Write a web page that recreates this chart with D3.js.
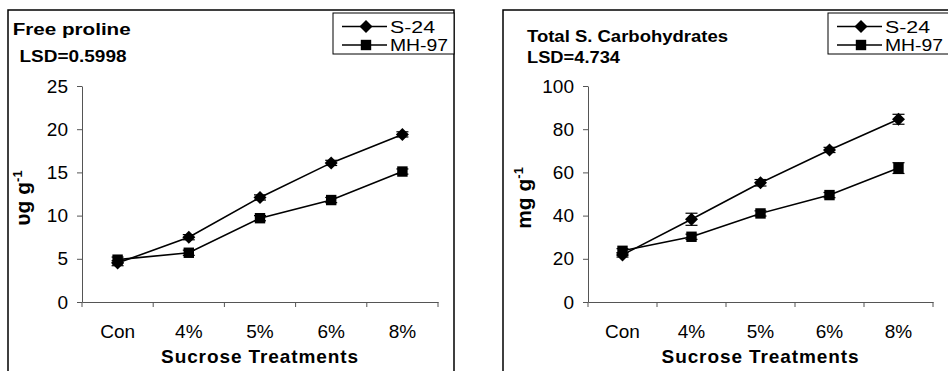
<!DOCTYPE html>
<html><head><meta charset="utf-8">
<script src="https://cdn.jsdelivr.net/npm/d3@7"></script>
<style>
html,body{margin:0;padding:0;background:#fff;}
svg{display:block;font-family:"Liberation Sans",Arial,sans-serif;}
</style></head>
<body>
<svg id="c" width="948" height="371"></svg>
<script>
const categories = ["Con","4%","5%","6%","8%"];
const seriesNames = ["S-24","MH-97"];
// Chart 1: Free proline
const prolineS24 = [4.5, 7.5, 12.1, 16.1, 19.4];
const prolineMH97 = [4.9, 5.7, 9.7, 11.8, 15.1];
const prolineErrS24 = [0.3, 0.3, 0.3, 0.3, 0.3];
const prolineErrMH97 = [0.3, 0.3, 0.3, 0.3, 0.3];
const prolineTicks = [0,5,10,15,20,25];
// Chart 2: Total soluble carbohydrates
const carbS24 = [21.8, 38.3, 55.2, 70.4, 84.6];
const carbMH97 = [23.7, 30.2, 41.0, 49.5, 62.0];
const carbErrS24 = [1.0, 2.8, 1.5, 1.2, 2.3];
const carbErrMH97 = [1.0, 1.2, 1.2, 1.2, 2.5];
const carbTicks = [0,20,40,60,80,100];

const svg = d3.select("#c");

function drawChart(cfg){
  const g = svg.append("g");
  g.append("path").attr("d", cfg.frame).attr("fill","none").attr("stroke","#000").attr("stroke-width",1.5);
  const x = d3.scaleBand().domain(categories).range([cfg.x0, cfg.x1]);
  const y = d3.scaleLinear().domain([0, cfg.ymax]).range([302, 86]);
  const ya = g.append("g").attr("transform",`translate(${cfg.x0},0)`)
    .call(d3.axisLeft(y).tickValues(cfg.ticks).tickSize(5).tickPadding(9).tickSizeOuter(0));
  ya.select(".domain").attr("stroke","#555");
  ya.selectAll(".tick line").attr("stroke","#555");
  ya.selectAll("text").attr("font-size",19).attr("fill","#000").attr("font-family","Liberation Sans, Arial, sans-serif");
  const xa = g.append("g").attr("transform",`translate(0,302)`)
    .call(d3.axisBottom(x).tickSize(0).tickPadding(23).tickSizeOuter(0));
  xa.select(".domain").attr("stroke","#555");
  xa.selectAll("text").attr("font-size",19).attr("fill","#000").attr("font-family","Liberation Sans, Arial, sans-serif");
  const bounds = categories.map(c => x(c)).concat([x.range()[1]]);
  g.selectAll(".xb").data(bounds).enter().append("line")
    .attr("x1",d=>d).attr("x2",d=>d).attr("y1",302).attr("y2",307)
    .attr("stroke","#555");
  const cx = c => x(c) + x.bandwidth()/2;
  const line = d3.line().x((d,i)=>cx(categories[i])).y(d=>y(d));
  const series = [
    {vals: cfg.s1, err: cfg.e1, shape: "diamond"},
    {vals: cfg.s2, err: cfg.e2, shape: "square"}
  ];
  series.forEach(s=>{
    g.append("path").attr("d", line(s.vals)).attr("fill","none").attr("stroke","#000").attr("stroke-width",1.6);
  });
  series.forEach(s=>{
    s.vals.forEach((v,i)=>{
      const px = cx(categories[i]);
      const e = s.err[i];
      const yt = y(v+e), yb = y(v-e);
      g.append("line").attr("x1",px).attr("x2",px).attr("y1",yt).attr("y2",yb).attr("stroke","#000").attr("stroke-width",1.2);
      [yt,yb].forEach(yy=>g.append("line").attr("x1",px-6).attr("x2",px+6).attr("y1",yy).attr("y2",yy).attr("stroke","#000").attr("stroke-width",1.2));
      drawMarker(g, s.shape, px, y(v));
    });
  });
  g.append("text").attr("x",cfg.t1x).attr("y",cfg.t1y).attr("font-size",16).attr("font-weight","bold")
    .attr("textLength",cfg.t1w).attr("lengthAdjust","spacingAndGlyphs").text(cfg.title);
  g.append("text").attr("x",cfg.t2x).attr("y",cfg.t2y).attr("font-size",16).attr("font-weight","bold")
    .attr("textLength",cfg.t2w).attr("lengthAdjust","spacingAndGlyphs").text(cfg.lsd);
  g.append("text").attr("x",(cfg.x0+cfg.x1)/2).attr("y",363).attr("text-anchor","middle")
    .attr("font-size",19).attr("font-weight","bold").attr("letter-spacing",0.9).text("Sucrose Treatments");
  const yt = g.append("text").attr("transform",`translate(${cfg.ytx},198) rotate(-90)`)
    .attr("text-anchor","middle").attr("font-size",21).attr("font-weight","bold");
  yt.append("tspan").text(cfg.yunit + " g");
  yt.append("tspan").attr("dy",-8).attr("font-size",13).text("-1");
  g.append("rect").attr("x",cfg.lx).attr("y",13).attr("width",cfg.lw).attr("height",41)
    .attr("fill","#fff").attr("stroke","#000").attr("stroke-width",1);
  const ly = [26.5, 45];
  const lw = [45, 58];
  seriesNames.forEach((n,i)=>{
    g.append("line").attr("x1",cfg.lx+9).attr("x2",cfg.lx+54).attr("y1",ly[i]).attr("y2",ly[i]).attr("stroke","#000").attr("stroke-width",1.6);
    drawMarker(g, i===0?"diamond":"square", cfg.lx+33, ly[i]);
    g.append("text").attr("x",cfg.lx+57).attr("y",ly[i]+6).attr("font-size",16)
      .attr("textLength",lw[i]).attr("lengthAdjust","spacingAndGlyphs").text(n);
  });
}

function drawMarker(g, shape, px, py){
  if(shape==="diamond"){
    const r=6.5;
    g.append("path").attr("d",`M${px},${py-r}L${px+r},${py}L${px},${py+r}L${px-r},${py}Z`).attr("fill","#000");
  } else {
    const h=5.2;
    g.append("rect").attr("x",px-h).attr("y",py-h).attr("width",2*h).attr("height",2*h).attr("fill","#000");
  }
}

drawChart({
  frame:"M8,371L8,10L454,10L454,371",
  x0:82, x1:438, ymax:25, ticks:prolineTicks,
  s1:prolineS24, s2:prolineMH97, e1:prolineErrS24, e2:prolineErrMH97,
  title:"Free proline", t1x:12.7, t1y:35, t1w:118,
  lsd:"LSD=0.5998", t2x:19.5, t2y:62, t2w:107,
  ytx:30, yunit:"υg",
  lx:333, lw:121
});
drawChart({
  frame:"M503,371L503,10L960,10",
  x0:588, x1:933, ymax:100, ticks:carbTicks,
  s1:carbS24, s2:carbMH97, e1:carbErrS24, e2:carbErrMH97,
  title:"Total S. Carbohydrates", t1x:527, t1y:41.5, t1w:201,
  lsd:"LSD=4.734", t2x:527, t2y:63, t2w:93,
  ytx:531, yunit:"mg",
  lx:828, lw:140
});
</script>
</body></html>
